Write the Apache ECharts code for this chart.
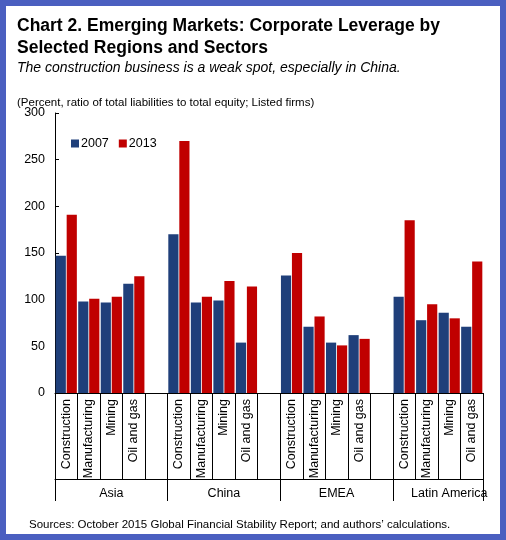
<!DOCTYPE html>
<html>
<head>
<meta charset="utf-8">
<script src="https://cdn.jsdelivr.net/npm/echarts@6/dist/echarts.min.js"></script>
<style>
  html, body { margin: 0; padding: 0; background: #fff; }
  #frame { position: absolute; left: 0; top: 0; width: 494px; height: 528px; border: 6px solid #4b5fc0; }
  #main { width: 494px; height: 528px; }
</style>
</head>
<body>
<div id="frame"><div id="main"></div></div>
<script>
// categories: 4 sectors per region, a blank cell between regions
var sectors = ['Construction', 'Manufacturing', 'Mining', 'Oil and gas'];
var regions = ['Asia', 'China', 'EMEA', 'Latin America'];
var v2007 = [147, 98, 97, 117, 170, 97, 99, 54, 126, 71, 54, 62, 103, 78, 86, 71];
var v2013 = [191, 101, 103, 125, 270, 103, 120, 114, 150, 82, 51, 58, 185, 95, 80, 141];

var cats = [], s07 = [], s13 = [], regionCats = [];
regions.forEach(function (r, ri) {
  sectors.forEach(function (s, si) {
    cats.push(s);
    s07.push(v2007[ri * 4 + si]);
    s13.push(v2013[ri * 4 + si]);
    regionCats.push(si === 2 ? r : '');
  });
  if (ri < regions.length - 1) {
    cats.push(''); s07.push('-'); s13.push('-'); regionCats.push('');
  }
});

var font = 'Liberation Sans, Arial, sans-serif';
var myChart = echarts.init(document.getElementById('main'));
myChart.setOption({
  animation: false,
  textStyle: { fontFamily: font },
  title: [{
    text: 'Chart 2. Emerging Markets: Corporate Leverage by\nSelected Regions and Sectors',
    left: 6, top: 4,
    textStyle: { fontSize: 17.5, fontWeight: 'bold', color: '#000', lineHeight: 22, fontFamily: font }
  }, {
    text: 'The construction business is a weak spot, especially in China.',
    left: 6, top: 50,
    textStyle: { fontSize: 14, fontStyle: 'italic', fontWeight: 'normal', color: '#000', fontFamily: font }
  }, {
    text: '(Percent, ratio of total liabilities to total equity; Listed firms)',
    left: 6, top: 86,
    textStyle: { fontSize: 11.5, fontWeight: 'normal', color: '#000', fontFamily: font }
  }, {
    text: 'Sources: October 2015 Global Financial Stability Report; and authors\u2019 calculations.',
    left: 18, top: 508,
    textStyle: { fontSize: 11.5, fontWeight: 'normal', color: '#000', fontFamily: font }
  }],
  legend: {
    left: 60, top: 126, itemWidth: 8, itemHeight: 8, itemGap: 10,
    icon: 'rect',
    textStyle: { fontSize: 12.5, color: '#000', padding: [0, 0, 0, -3] },
    data: ['2007', '2013']
  },
  grid: { left: 49, right: 17, top: 107, bottom: 141 },
  xAxis: [{
    type: 'category', data: cats,
    axisLine: { lineStyle: { color: '#000' } },
    axisTick: { show: true, interval: 0, length: 86, lineStyle: { color: '#000' } },
    axisLabel: { rotate: 90, interval: 0, color: '#000', fontSize: 12.5, margin: 6 }
  }, {
    type: 'category', data: regionCats, position: 'bottom', offset: 86,
    axisLine: { show: true, lineStyle: { color: '#000' } },
    axisTick: {
      show: true, length: 22, lineStyle: { color: '#000' },
      interval: function (i) { return i % 5 === 0; }
    },
    axisLabel: { interval: 0, color: '#000', fontSize: 12.5, margin: 8 }
  }],
  yAxis: {
    type: 'value', min: 0, max: 300, interval: 50,
    axisLine: { show: true, lineStyle: { color: '#000' } },
    axisTick: { show: true, inside: true, length: 4, lineStyle: { color: '#000' } },
    axisLabel: { color: '#000', fontSize: 12.5, margin: 10 },
    splitLine: { show: false }
  },
  series: [{
    name: '2007', type: 'bar', data: s07, barGap: '8%', barCategoryGap: '6%',
    itemStyle: { color: '#1f3f7a' }
  }, {
    name: '2013', type: 'bar', data: s13,
    itemStyle: { color: '#c00000' }
  }]
});
</script>
</body>
</html>
